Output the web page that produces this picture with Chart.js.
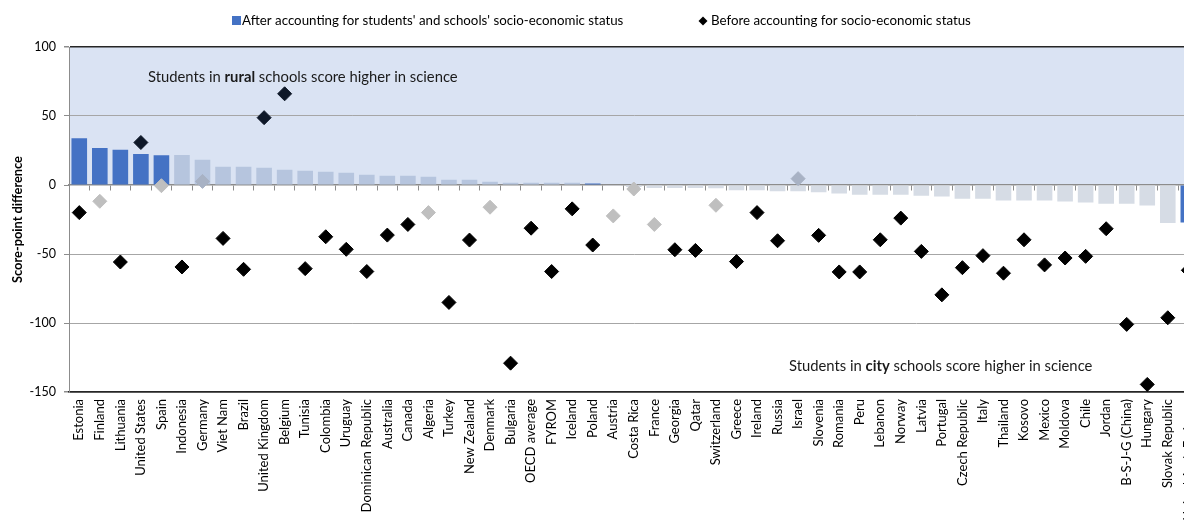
<!DOCTYPE html>
<html><head><meta charset="utf-8">
<script src="https://cdn.jsdelivr.net/npm/chart.js@4"></script>
<style>
html,body{margin:0;padding:0;overflow:hidden;background:#fff}
#wrap{position:relative;width:1211px;height:524px}
</style></head>
<body><div id="wrap"><canvas id="c" width="1211" height="524"></canvas></div>
<script>
const categories = ["Estonia","Finland","Lithuania","United States","Spain","Indonesia","Germany","Viet Nam","Brazil","United Kingdom","Belgium","Tunisia","Colombia","Uruguay","Dominican Republic","Australia","Canada","Algeria","Turkey","New Zealand","Denmark","Bulgaria","OECD average","FYROM","Iceland","Poland","Austria","Costa Rica","France","Georgia","Qatar","Switzerland","Greece","Ireland","Russia","Israel","Slovenia","Romania","Peru","Lebanon","Norway","Latvia","Portugal","Czech Republic","Italy","Thailand","Kosovo","Mexico","Moldova","Chile","Jordan","B-S-J-G (China)","Hungary","Slovak Republic","United Arab Emirates"];

const afterValues = [33.9,26.9,25.5,22.4,21.5,21.7,18.3,13.2,13.2,12.5,11.1,10.3,9.6,8.9,7.5,6.7,6.7,6.0,3.8,3.8,2.4,1.7,1.7,1.7,1.7,1.0,-0.2,-1.5,-2.2,-2.2,-2.2,-2.4,-3.8,-3.8,-4.6,-4.6,-5.3,-6.2,-7.0,-7.0,-7.0,-7.7,-8.4,-9.9,-9.9,-11.3,-11.3,-11.3,-12.0,-12.7,-13.5,-13.5,-14.9,-27.6,-27.2];
const afterSignificant = [1,1,1,1,1,0,0,0,0,0,0,0,0,0,0,0,0,0,0,0,0,0,0,0,0,1,0,0,0,0,0,0,0,0,0,0,0,0,0,0,0,0,0,0,0,0,0,0,0,0,0,0,0,0,1];

const beforeValues = [-20.0,-11.8,-55.8,30.8,-0.5,-59.4,2.6,-38.7,-61.1,48.8,66.1,-60.6,-37.5,-46.6,-62.7,-36.3,-28.6,-20.0,-85.1,-39.9,-16.1,-129.1,-31.3,-62.7,-17.3,-43.5,-22.4,-2.9,-28.6,-46.9,-47.4,-14.7,-55.5,-20.0,-40.4,4.6,-36.5,-63.0,-63.0,-39.7,-24.0,-48.1,-79.6,-59.9,-51.2,-63.9,-39.7,-57.9,-52.9,-51.7,-31.7,-101.0,-144.5,-96.2,-61.8];
const beforeSignificant = [1,0,1,1,0,1,0,1,1,1,1,1,1,1,1,1,1,0,1,1,0,1,1,1,1,1,0,0,0,1,1,0,1,1,1,0,1,1,1,1,1,1,1,1,1,1,1,1,1,1,1,1,1,1,1];

const yTickValues = [-150,-100,-50,0,50,100];
const seriesNames = ["After accounting for students' and schools' socio-economic status","Before accounting for socio-economic status"];
const FONT = "Lato";

const barColors = afterValues.map((v,i)=> afterSignificant[i] ? '#4472C4' : (v > 0 ? '#B6C5DE' : '#D6DCE5'));
const pointColors = beforeValues.map((v,i)=> beforeSignificant[i] ? (v > 1 ? '#0E1828' : '#000000') : (v > 1 ? '#A8B2C4' : '#BFBFBF'));

const decor = {
  id:'decor',
  beforeDraw(chart){
    const {ctx, chartArea:a, scales:{y}} = chart;
    const top = y.getPixelForValue(100), zero = y.getPixelForValue(0);
    ctx.save();
    ctx.fillStyle = '#DAE3F3';
    ctx.fillRect(a.left, top, a.right - a.left, zero - top);
    ctx.restore();
  },
  afterDraw(chart){
    const ctx = chart.ctx;
    ctx.save();
    ctx.textBaseline = 'middle';
    ctx.fillStyle = '#4472C4';
    ctx.fillRect(232, 16, 9, 9);
    ctx.fillStyle = '#000';
    ctx.font = `13.3px ${FONT}`;
    ctx.fillText(seriesNames[0], 242, 21);
    ctx.beginPath();
    ctx.moveTo(703, 16.5); ctx.lineTo(707.5, 21); ctx.lineTo(703, 25.5); ctx.lineTo(698.5, 21); ctx.closePath();
    ctx.fill();
    ctx.fillText(seriesNames[1], 711, 21);
    const rich = (parts, x, yy) => {
      for (const p of parts) {
        ctx.font = `${p.b ? 'bold ' : ''}14.8px ${FONT}`;
        ctx.fillStyle = '#1a1a1a';
        ctx.fillText(p.t, x, yy);
        x += ctx.measureText(p.t).width;
      }
    };
    rich([{t:'Students in '},{t:'rural',b:true},{t:' schools score higher in science'}], 148, 77);
    rich([{t:'Students in '},{t:'city',b:true},{t:' schools score higher in science'}], 789, 366);
    ctx.restore();
  }
};

new Chart(document.getElementById('c'), {
  data: {
    labels: categories,
    datasets: [
      {type:'line', label: seriesNames[1], data: beforeValues, showLine:false, pointStyle:'rectRot', pointRadius:7, pointHoverRadius:7,
       pointBackgroundColor: pointColors, pointBorderColor: pointColors, pointBorderWidth:1, order:0, xAxisID:'x', yAxisID:'y'},
      {type:'bar', label: seriesNames[0], data: afterValues, backgroundColor: barColors, borderWidth:0,
       barPercentage:0.76, categoryPercentage:1, order:1, xAxisID:'x', yAxisID:'y'}
    ]
  },
  options: {
    responsive:false, animation:false, devicePixelRatio:1,
    layout:{padding:{top:47, right:4, left:0, bottom:0}},
    plugins:{legend:{display:false}, tooltip:{enabled:false}},
    scales:{
      x:{type:'category', position:'bottom', offset:true,
         grid:{display:false, drawTicks:false},
         border:{display:true, color:'#262626', width:1.5},
         ticks:{autoSkip:false, maxRotation:90, minRotation:90, padding:7, color:'#000', font:{family:FONT, size:13}},
         afterFit(s){ s.height = 132; }
      },
      x2:{type:'category', labels: categories, position:{y:0}, offset:true,
         grid:{display:true, offset:true, drawOnChartArea:false, drawTicks:true, tickLength:5, color:'#8C8C8C', lineWidth:1},
         border:{display:true, color:'#8C8C8C', width:1.5},
         ticks:{display:false}
      },
      y:{type:'linear', position:'left', min:-150, max:100,
         afterBuildTicks(s){ s.ticks = yTickValues.map(v=>({value:v})); },
         grid:{color:(c)=> (c.tick && (c.tick.value===100 || c.tick.value===-150)) ? '#262626' : (c.tick && c.tick.value===0 ? 'rgba(0,0,0,0)' : '#A6A6A6'),
               lineWidth:(c)=> (c.tick && (c.tick.value===100 || c.tick.value===-150)) ? 1.5 : 1,
               tickColor:'#8C8C8C', tickLength:5, drawTicks:true},
         border:{display:true, color:'#8C8C8C', width:1},
         ticks:{padding:8, color:'#000', font:{family:FONT, size:12.5}},
         title:{display:true, text:'Score-point difference', color:'#000', font:{family:FONT, size:12.8, weight:'bold'}, padding:{top:10, bottom:0}},
         afterFit(s){ s.width = 69; }
      }
    }
  },
  plugins:[decor]
});
</script>
</body></html>
